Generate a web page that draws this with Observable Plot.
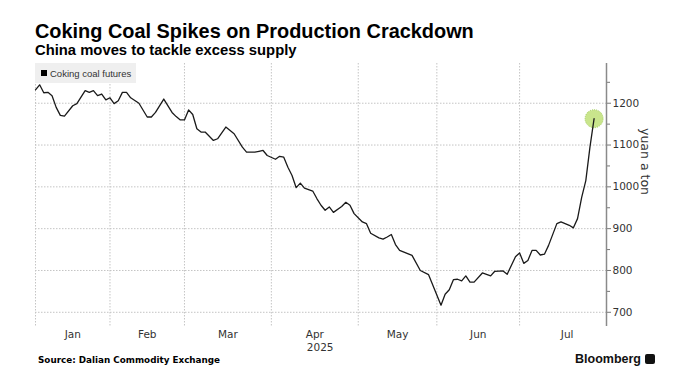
<!DOCTYPE html>
<html><head><meta charset="utf-8">
<script src="https://cdn.jsdelivr.net/npm/d3@7"></script>
<script src="https://cdn.jsdelivr.net/npm/@observablehq/plot@0.6"></script>
<style>
body{margin:0;background:#fff;}
#wrap{position:relative;width:677px;height:390px;overflow:hidden;background:#fff;}
#title{position:absolute;left:35px;top:20px;font:bold 19.9px "Liberation Sans",sans-serif;color:#000;white-space:nowrap;}
#subtitle{position:absolute;left:35px;top:42px;font:bold 14.8px "Liberation Sans",sans-serif;color:#000;white-space:nowrap;}
#chart{position:absolute;left:0;top:58px;}
#legend{position:absolute;left:35px;top:63px;width:101px;height:20px;background:#efefef;font:9.5px "Liberation Sans",sans-serif;color:#333;display:flex;align-items:center;white-space:nowrap;}
#legend .sw{display:inline-block;width:6px;height:6px;background:#000;margin:0 3px 0 6px;}
#source{position:absolute;left:38px;top:355px;font:bold 8.8px "DejaVu Sans",sans-serif;color:#000;white-space:nowrap;}
#brand{position:absolute;left:575px;top:352px;font:bold 12.5px "Liberation Sans",sans-serif;color:#111;white-space:nowrap;display:flex;align-items:center;}
#brand .ic{display:inline-block;width:10px;height:10px;background:#111;border-radius:2px;margin-left:4px;}
</style>
</head><body>
<div id="wrap">
<div id="title">Coking Coal Spikes on Production Crackdown</div>
<div id="subtitle">China moves to tackle excess supply</div>
<div id="chart"></div>
<div id="legend"><span class="sw"></span>Coking coal futures</div>
<div id="source">Source: Dalian Commodity Exchange</div>
<div id="brand">Bloomberg<span class="ic"></span></div>
</div>
<script>
// trading-session index (0 = first session of January 2025)
const sessions = [0,1,2,3,4,5,6,7,9,10,12,13,14,15,16,17,18,19,20,21,22,23,25,27,28,29,31,33,34,35,36,37,38,39,40,41,43,44,46,48,50,51,53,54,55,56,58,59,60,61,62,63,64,65,67,68,69,70,71,72,74,75,76,77,79,80,81,83,84,85,86,87,88,91,93,95,98,99,100,101,102,103,104,105,106,108,110,111,113,114,116,117,118,119,120,121,122,123,124,126,127,129,130,131,132,133,134,135];
const prices = [1232,1244,1225,1226,1218,1190,1171,1169,1194,1199,1230,1226,1230,1218,1222,1208,1213,1199,1206,1226,1226,1213,1200,1167,1167,1178,1210,1178,1168,1160,1160,1184,1173,1139,1131,1131,1111,1115,1143,1127,1095,1083,1083,1085,1087,1075,1066,1073,1071,1047,1027,998,1009,997,990,972,956,944,952,939,953,963,956,936,916,912,889,878,875,880,886,862,848,836,800,790,717,743,754,778,779,775,787,772,772,794,787,798,799,791,833,842,817,824,848,848,837,839,860,912,916,908,902,924,975,1015,1095,1163];
const monthNames = ["Jan","Feb","Mar","Apr","May","Jun","Jul"];
const monthStart = [0,18,36,57,78,97,117];
const monthEnd = [18,36,57,78,97,117,140];
const yearLabel = "2025";
const yTicks = [700,800,900,1000,1100,1200];
const yMinor = [750,850,950,1050,1150,1250];
const seriesName = "Coking coal futures";
const unitLabel = "yuan a ton";

const data = sessions.map((s,i)=>({session:s, price:prices[i]}));
const last = data[data.length-1];
const grid = {stroke:"#c4c4c4", strokeOpacity:1, strokeDasharray:"1.5,1.5"};

const chart = Plot.plot({
  width: 677, height: 297,
  marginTop: 5, marginLeft: 35, marginRight: 71, marginBottom: 29,
  style: {fontFamily: "DejaVu Sans, sans-serif", color: "#333", background: "transparent"},
  x: {domain: [0, 138], axis: null},
  y: {domain: [666, 1295], axis: null},
  marks: [
    Plot.gridY(yTicks, grid),
    Plot.gridX(monthStart, grid),
    Plot.axisY(yMinor, {anchor: "right", tickSize: 3, tickFormat: () => "", stroke: "#777", label: null}),
    Plot.axisY(yTicks, {anchor: "right", tickSize: 4, tickPadding: 2, tickFormat: d3.format("d"), fontSize: 10.5, stroke: "#777", fill: "#333", label: null}),
    Plot.ruleX([138], {stroke: "#8a8a8a", strokeWidth: 1.5}),
    Plot.text(monthNames, {x: (d,i) => (monthStart[i] + monthEnd[i]) / 2, frameAnchor: "bottom", dy: 8, lineAnchor: "middle", fontSize: 10.5, fill: "#333"}),
    Plot.text([yearLabel], {x: (monthStart[3] + monthEnd[3]) / 2 + 1.3, frameAnchor: "bottom", dy: 21, lineAnchor: "middle", fontSize: 10.5, fill: "#333"}),
    Plot.text([unitLabel], {frameAnchor: "right", rotate: 90, dx: 38, fontSize: 12.5, fill: "#333"}),
    Plot.dot([last], {x: "session", y: "price", r: 9, fill: "#c9e58c", stroke: "#9fcb57", strokeDasharray: "1,1", strokeWidth: 1}),
    Plot.line(data, {x: "session", y: "price", stroke: "#1a1a1a", strokeWidth: 1.3})
  ]
});
document.getElementById("chart").appendChild(chart);
</script>
</body></html>
